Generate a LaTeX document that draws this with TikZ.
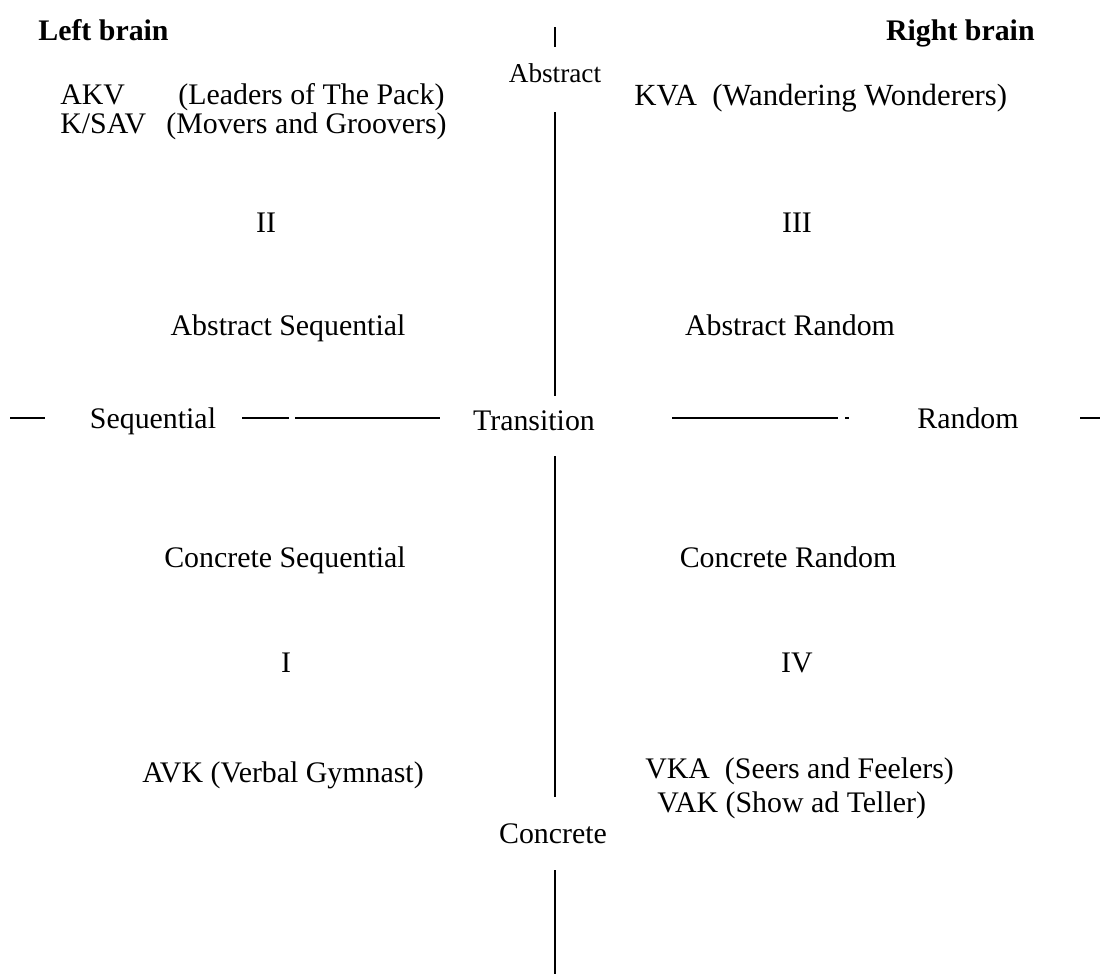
\documentclass[tikz,border=0pt]{standalone}
\usepackage{fontspec}
\setmainfont{Liberation Serif}
\begin{document}
\begin{tikzpicture}[x=0.02cm, y=-0.02cm,
        txt/.style={inner sep=0pt, anchor=mid, font=\fontsize{17}{20}\selectfont},
        brain/.style={inner sep=0pt, anchor=mid west, font=\fontsize{17}{20}\selectfont\bfseries},
        axis/.style={line width=1pt}]
        \useasboundingbox (0,0) rectangle (1100,974);
        % headings
        \node[brain] (leftb) at (38,36) {Left brain};
        \node[brain, anchor=mid east] (rightb) at (1035,36) {Right brain};
        % vertical axis
        \foreach \a/\b in {27/47, 112/396, 456/797, 870/974} {
            \draw[axis] (555,\a) -- (555,\b);
        }
        \node[txt, font=\fontsize{15.5}{18}\selectfont] (abs) at (555,78) {Abstract};
        \node[txt, font=\fontsize{17}{20}\selectfont] (con) at (553,839) {Concrete};
        % horizontal axis
        \foreach \a/\b in {10/45, 242/289, 295/440, 672/838, 845/849, 1080/1100} {
            \draw[axis] (\a,418) -- (\b,418);
        }
        \node[txt] (seq) at (153,424) {Sequential};
        \node[txt] (trans) at (534,426) {Transition};
        \node[txt] (rnd) at (968,424) {Random};
        % quadrant II and III
        \node[txt, anchor=mid west] (akv) at (60,100) {AKV};
        \node[txt, anchor=mid west] (leaders) at (178,100) {(Leaders of The Pack)};
        \node[txt, anchor=mid west] (ksav) at (60,129) {K/SAV};
        \node[txt, anchor=mid west] (movers) at (166,129) {(Movers and Groovers)};
        \node[txt, anchor=mid west, font=\fontsize{17.5}{20}\selectfont] (kva) at (634,101) {KVA\ \ (Wandering Wonderers)};
        \node[txt] (q2) at (266,228) {II};
        \node[txt] (q3) at (797,228) {III};
        \node[txt] (absseq) at (288,331) {Abstract Sequential};
        \node[txt] (absrnd) at (790,331) {Abstract Random};
        % quadrant I and IV
        \node[txt] (conseq) at (285,563) {Concrete Sequential};
        \node[txt] (conrnd) at (788,563) {Concrete Random};
        \node[txt] (q1) at (286,668) {I};
        \node[txt] (q4) at (797,668) {IV};
        \node[txt] (avk) at (283,778) {AVK (Verbal Gymnast)};
        \node[txt, anchor=mid west] (vka) at (645,774) {VKA\ \ (Seers and Feelers)};
        \node[txt, anchor=mid west] (vak) at (657,808) {VAK (Show ad Teller)};
    \end{tikzpicture}
\end{document}
